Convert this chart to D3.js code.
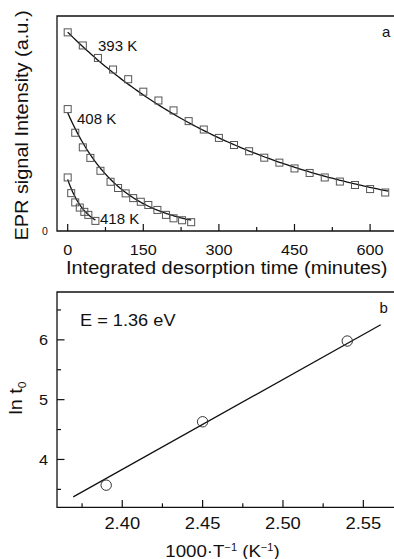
<!DOCTYPE html>
<html><head><meta charset="utf-8">
<script src="https://cdn.jsdelivr.net/npm/d3@7"></script>
<style>
html,body{margin:0;padding:0;background:#fff;}
svg{display:block;font-family:"Liberation Sans",Arial,sans-serif;}
</style></head>
<body><svg id="c" width="394" height="559"></svg>
<script>
// ---------- Panel a data ----------
const t393 = [0,30,60,90,120,150,180,210,240,270,300,330,360,390,420,450,480,510,540,570,600,630];
const i393 = [92.4,86.3,80.5,75.1,70.6,64.8,60.7,56.1,51.1,47.2,43.3,40.0,37.1,34.1,31.8,29.1,27.0,24.9,23.0,21.4,19.5,17.9];
const t408 = [0,15,30,45,65,85,100,115,130,145,160,178,195,210,227,245];
const i408 = [56.7,45.7,38.9,34.0,28.0,22.9,20.0,17.5,15.3,13.6,12.1,9.8,7.5,5.9,5.0,4.1];
const t418 = [0,7,15,24,33,41,55];
const i418 = [24.9,17.6,13.3,10.9,8.9,7.5,4.7];
const tempLabels = ["393 K","408 K","418 K"];
const fitAmp = [92.5,55,24];
const fitEnd = [636,245,55];
const xTicksA = [0,150,300,450,600];
// ---------- Panel b data ----------
const invT = [2.390,2.450,2.540];
const lnT0 = [3.57,4.63,5.98];
const fitX = [2.3695,2.5608];
const fitSlope = 15.04, fitIntercept = -32.263;
const xTicksB = [2.40,2.45,2.50,2.55];
const yTicksB = [4,5,6];

const svg = d3.select("#c");
const ink = "#111";

function stxt(g, x, y, str, size, sx, anchor, rot){
  const t = g.append("text")
    .attr("transform", `translate(${x},${y})` + (rot?` rotate(${rot})`:"") + ` scale(${sx},1)`)
    .attr("text-anchor", anchor||"start").attr("font-size", size).attr("fill", ink);
  if (str !== null) t.text(str);
  return t;
}

// ---------- Panel a ----------
const xa = d3.scaleLinear().domain([-21.2,649.4]).range([57,395]);
const ya = d3.scaleLinear().domain([0,100]).range([231,16]);
const ga = svg.append("g");
ga.append("path").attr("d",`M395,16H57V231H395`).attr("fill","none").attr("stroke",ink).attr("stroke-width",1.3);
const minorA = d3.range(75,650,150);
ga.selectAll(".tA").data(xTicksA).join("line").attr("x1",d=>xa(d)).attr("x2",d=>xa(d)).attr("y1",231).attr("y2",224).attr("stroke",ink).attr("stroke-width",1.2);
ga.selectAll(".mA").data(minorA).join("line").attr("x1",d=>xa(d)).attr("x2",d=>xa(d)).attr("y1",231).attr("y2",227).attr("stroke",ink).attr("stroke-width",1.2);
xTicksA.forEach(d=>stxt(ga, xa(d), 254.8, String(d), 15, 1.08, "middle"));
ga.append("text").attr("x",45).attr("y",ya(0)+3.5).attr("text-anchor","middle").attr("font-size",10.5).attr("fill",ink).text("0");
stxt(ga, 226.7, 274, "Integrated desorption time (minutes)", 17.5, 1.145, "middle");
stxt(ga, 28, 125.5, "EPR signal Intensity (a.u.)", 18, 1.107, "middle", -90);
ga.append("text").attr("x",382).attr("y",37).attr("font-size",15).attr("fill",ink).text("a");

const seriesA = [[t393,i393],[t408,i408],[t418,i418]];
const line = d3.line().x(d=>xa(d[0])).y(d=>ya(d[1]));
seriesA.forEach(([ts,is],k)=>{
  const t0 = Math.exp(lnT0[2-k]);
  const pts = d3.range(0,fitEnd[k]+0.001,fitEnd[k]/120).map(t=>[t,fitAmp[k]*Math.exp(-t/t0)]);
  ga.append("path").attr("d",line(pts)).attr("fill","none").attr("stroke",ink).attr("stroke-width",1.3);
  const data = ts.map((t,i)=>[t,is[i]]);
  ga.selectAll(null).data(data).join("rect").attr("x",d=>xa(d[0])-3.5).attr("y",d=>ya(d[1])-3.5).attr("width",7).attr("height",7)
    .attr("fill","none").attr("stroke","#555").attr("stroke-width",1);
});
const labPos = [[98,51],[77,124],[100,223.5]];
tempLabels.forEach((s,k)=>ga.append("text").attr("x",labPos[k][0]).attr("y",labPos[k][1]).attr("font-size",15).attr("fill",ink).text(s));

// ---------- Panel b ----------
const xb = d3.scaleLinear().domain([2.3594,2.5697]).range([57,395]);
const yb = d3.scaleLinear().domain([3.2,6.8]).range([507.3,292]);
const gb = svg.append("g");
gb.append("path").attr("d",`M395,292H57V507.3H395`).attr("fill","none").attr("stroke",ink).attr("stroke-width",1.3);
const minorBx = [2.375,2.425,2.475,2.525];
gb.selectAll(".tB").data(xTicksB).join("line").attr("x1",d=>xb(d)).attr("x2",d=>xb(d)).attr("y1",507.3).attr("y2",500).attr("stroke",ink).attr("stroke-width",1.2);
gb.selectAll(".mB").data(minorBx).join("line").attr("x1",d=>xb(d)).attr("x2",d=>xb(d)).attr("y1",507.3).attr("y2",503.3).attr("stroke",ink).attr("stroke-width",1.2);
xTicksB.forEach(d=>stxt(gb, xb(d), 528.5, d.toFixed(2), 17, 1.08, "middle"));
const minorBy = [3.5,4.5,5.5,6.5];
gb.selectAll(".tBy").data(yTicksB).join("line").attr("x1",57).attr("x2",64.5).attr("y1",d=>yb(d)).attr("y2",d=>yb(d)).attr("stroke",ink).attr("stroke-width",1.2);
gb.selectAll(".mBy").data(minorBy).join("line").attr("x1",57).attr("x2",61).attr("y1",d=>yb(d)).attr("y2",d=>yb(d)).attr("stroke",ink).attr("stroke-width",1.2);
yTicksB.forEach(d=>stxt(gb, 48, yb(d)+5.5, String(d), 15.5, 1.05, "end"));
gb.append("line").attr("x1",xb(fitX[0])).attr("y1",yb(fitSlope*fitX[0]+fitIntercept)).attr("x2",xb(fitX[1])).attr("y2",yb(fitSlope*fitX[1]+fitIntercept)).attr("stroke",ink).attr("stroke-width",1.3);
gb.selectAll(".pt").data(invT.map((x,i)=>[x,lnT0[i]])).join("circle").attr("cx",d=>xb(d[0])).attr("cy",d=>yb(d[1])).attr("r",5.2).attr("fill","none").attr("stroke","#333").attr("stroke-width",1);
stxt(gb, 80, 325.5, "E = 1.36 eV", 17, 1.07, "start");
gb.append("text").attr("x",379.5).attr("y",313).attr("font-size",15).attr("fill",ink).text("b");
const xl = stxt(gb, 222.5, 556.5, null, 17, 1.1, "middle");
xl.append("tspan").text("1000·T");
xl.append("tspan").attr("dy",-6).attr("font-size",10).text("−1");
xl.append("tspan").attr("dy",6).text(" (K");
xl.append("tspan").attr("dy",-6).attr("font-size",10).text("−1");
xl.append("tspan").attr("dy",6).text(")");
const yl = stxt(gb, 22, 398, null, 18, 1.1, "middle", -90);
yl.append("tspan").text("ln t");
yl.append("tspan").attr("dy",4).attr("font-size",11).text("0");
</script></body></html>
